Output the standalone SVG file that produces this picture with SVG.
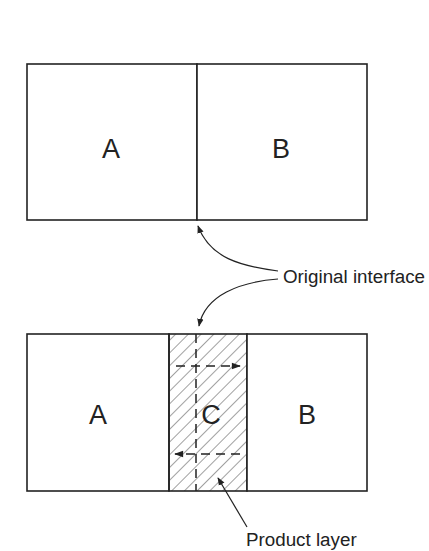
<svg xmlns="http://www.w3.org/2000/svg" width="429" height="551" viewBox="0 0 429 551">
<defs>
<style>
.box{fill:#fff;stroke:#222;stroke-width:1.6}
.lbl{font-family:"Liberation Sans",Arial,sans-serif;font-size:27px;fill:#222;text-anchor:middle}
.note{font-family:"Liberation Sans",Arial,sans-serif;font-size:18.8px;fill:#222}
.con{fill:none;stroke:#222;stroke-width:1.2}
.dash{fill:none;stroke:#222;stroke-width:1.5;stroke-dasharray:9,6}
</style>
<marker id="ah" viewBox="0 0 10 10" refX="9" refY="5" markerWidth="8" markerHeight="8" orient="auto" markerUnits="userSpaceOnUse">
<path d="M0,1 L10,5 L0,9 Z" fill="#222"/>
</marker>
<marker id="ah2" viewBox="0 0 10 10" refX="9" refY="5" markerWidth="11" markerHeight="9" orient="auto" markerUnits="userSpaceOnUse">
<path d="M0,1.5 L10,5 L0,8.5 Z" fill="#222"/>
</marker>
<pattern id="hatch" patternUnits="userSpaceOnUse" width="9" height="9" patternTransform="rotate(45)">
<line x1="0" y1="0" x2="0" y2="9" stroke="#444" stroke-width="1"/>
</pattern>
</defs>
<rect width="429" height="551" fill="#fff"/>
<g id="top">
<g id="topA"><rect class="box" x="27" y="64" width="170" height="156"/><text class="lbl" x="111" y="158">A</text></g>
<g id="topB"><rect class="box" x="197" y="64" width="170" height="156"/><text class="lbl" x="281" y="158">B</text></g>
</g>
<g id="bottom">
<g id="botA"><rect class="box" x="27" y="334" width="142" height="157"/><text class="lbl" x="98" y="424">A</text></g>
<g id="botC"><rect x="169" y="334" width="78" height="157" fill="url(#hatch)"/><rect x="169" y="334" width="78" height="157" style="fill:none;stroke:#222;stroke-width:1.6"/><text class="lbl" x="211" y="424">C</text></g>
<g id="botB"><rect class="box" x="247" y="334" width="120" height="157"/><text class="lbl" x="307" y="424">B</text></g>
</g>
<g id="connectors">
<line class="dash" x1="196" y1="334" x2="196" y2="491"/>
<line class="dash" x1="176" y1="366" x2="240" y2="366" marker-end="url(#ah2)"/>
<line class="dash" x1="240" y1="454" x2="175" y2="454" marker-end="url(#ah2)"/>
<path class="con" d="M278,271 C240,266 210,258 198,226" marker-end="url(#ah)"/>
<path class="con" d="M278,279 C240,282 205,295 199,326" marker-end="url(#ah)"/>
<line class="con" x1="247" y1="527" x2="218" y2="478" marker-end="url(#ah)"/>
</g>
<g id="labels">
<text class="note" x="283" y="283">Original interface</text>
<text class="note" x="246" y="546">Product layer</text>
</g>
</svg>
